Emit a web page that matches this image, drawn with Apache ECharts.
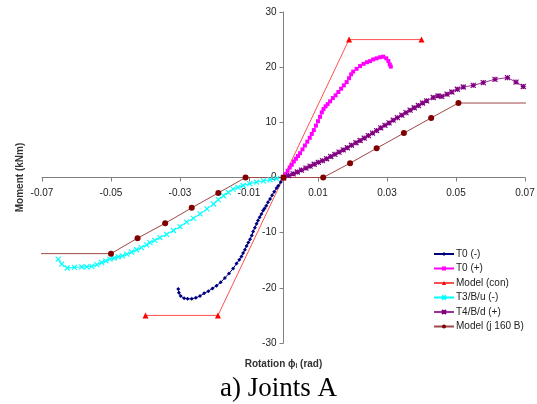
<!DOCTYPE html>
<html>
<head>
<meta charset="utf-8">
<script src="https://cdn.jsdelivr.net/npm/echarts@6/dist/echarts.min.js"></script>
<style>html,body{margin:0;padding:0;background:#fff;}#c{width:537px;height:404px;}</style>
</head>
<body>
<div id="c"></div>
<script>
var xTicks = [-0.07, -0.05, -0.03, -0.01, 0.01, 0.03, 0.05, 0.07];
var yTicks = [-30, -20, -10, 0, 10, 20, 30];
var seriesNames = ['T0 (-)', 'T0 (+)', 'Model (con)', 'T3/B/u (-)', 'T4/B/d (+)', 'Model (j 160 B)'];

var t0Neg = [[0,0],[-0.0008,-0.8],[-0.0015,-1.5],[-0.002,-1.9],[-0.0027,-2.6],[-0.0033,-3.2],[-0.0039,-3.9],[-0.0045,-4.5],[-0.005,-5.1],[-0.0055,-5.6],[-0.0059,-6.0],[-0.0064,-6.6],[-0.0069,-7.2],[-0.0074,-7.8],[-0.0078,-8.4],[-0.0083,-9.1],[-0.0088,-9.8],[-0.0092,-10.5],[-0.0097,-11.2],[-0.0102,-11.8],[-0.0107,-12.4],[-0.0112,-13.1],[-0.0117,-13.7],[-0.0122,-14.3],[-0.0128,-14.9],[-0.0136,-15.6],[-0.0146,-16.5],[-0.0158,-17.4],[-0.017,-18.2],[-0.0182,-19.0],[-0.0194,-19.6],[-0.0206,-20.1],[-0.0218,-20.6],[-0.023,-21.0],[-0.0242,-21.5],[-0.0254,-21.8],[-0.0266,-22.0],[-0.0278,-22.0],[-0.0288,-21.9],[-0.0298,-21.5],[-0.0303,-20.9],[-0.0305,-20.2]];
var t0Pos = [[0,0],[0.0006,0.6],[0.0012,1.2],[0.0018,1.8],[0.0024,2.3],[0.003,2.9],[0.0036,3.4],[0.0042,3.9],[0.0048,4.4],[0.0055,5.1],[0.0062,5.8],[0.0069,6.5],[0.0076,7.2],[0.0082,7.9],[0.0088,8.6],[0.0094,9.4],[0.0100,10.2],[0.0106,11.0],[0.0111,11.8],[0.0116,12.4],[0.0122,12.9],[0.0128,13.3],[0.0135,13.8],[0.0143,14.4],[0.0151,14.9],[0.0159,15.5],[0.0167,16.1],[0.0175,16.7],[0.0183,17.3],[0.019,18.0],[0.0196,18.7],[0.0202,19.2],[0.0212,19.7],[0.0222,20.2],[0.0232,20.6],[0.0242,20.9],[0.0251,21.1],[0.026,21.4],[0.027,21.6],[0.028,21.8],[0.0289,21.9],[0.0298,21.6],[0.0304,21.1],[0.0308,20.5],[0.0311,20.1]];
var modelCon = [[-0.04,-25],[-0.019,-25],[0,0],[0.019,25],[0.04,25]];
var t3Neg = [[0,0],[-0.002,-0.2],[-0.0039,-0.4],[-0.0058,-0.6],[-0.0078,-0.85],[-0.0098,-1.1],[-0.0117,-1.45],[-0.0132,-1.8],[-0.0146,-2.1],[-0.016,-2.7],[-0.0174,-3.3],[-0.0189,-4.0],[-0.0203,-4.8],[-0.0222,-5.7],[-0.0242,-6.6],[-0.0261,-7.4],[-0.0281,-8.1],[-0.03,-8.9],[-0.0319,-9.6],[-0.0339,-10.3],[-0.0358,-10.9],[-0.0373,-11.4],[-0.0387,-11.8],[-0.0397,-12.2],[-0.0412,-12.7],[-0.0426,-13.1],[-0.044,-13.5],[-0.0454,-13.9],[-0.0467,-14.2],[-0.0479,-14.4],[-0.0491,-14.6],[-0.0503,-14.8],[-0.0515,-15.1],[-0.0527,-15.4],[-0.0541,-15.8],[-0.0556,-16.1],[-0.057,-16.2],[-0.0585,-16.2],[-0.0606,-16.3],[-0.0627,-16.4],[-0.0643,-15.7],[-0.0653,-14.8]];
var t4Pos = [[0,0],[0.0015,0.35],[0.0028,0.67],[0.004,1.0],[0.0052,1.35],[0.0065,1.7],[0.0077,2.05],[0.0089,2.4],[0.0101,2.75],[0.0113,3.05],[0.0125,3.4],[0.0137,3.8],[0.0149,4.2],[0.0161,4.6],[0.0173,5.0],[0.0185,5.4],[0.0197,5.85],[0.021,6.3],[0.0222,6.7],[0.0234,7.15],[0.0246,7.6],[0.0258,8.05],[0.027,8.5],[0.0282,9.0],[0.0294,9.45],[0.0306,9.9],[0.0318,10.4],[0.033,10.85],[0.0343,11.3],[0.0355,11.75],[0.0367,12.2],[0.0379,12.65],[0.0391,13.05],[0.0403,13.5],[0.0415,13.9],[0.0434,14.5],[0.0448,14.8],[0.0459,14.7],[0.0474,15.1],[0.0488,15.5],[0.0504,16.0],[0.0521,16.4],[0.055,16.7],[0.0579,17.2],[0.0613,17.8],[0.0649,18.1],[0.0674,17.3],[0.0695,16.5]];
var modelJ160 = [[-0.071,-13.8],[-0.05,-13.8],[-0.0423,-11.0],[-0.0343,-8.3],[-0.0266,-5.5],[-0.0189,-2.8],[-0.011,0],[0,0],[0.0115,0],[0.0193,2.6],[0.027,5.3],[0.0349,8.05],[0.0428,10.8],[0.0507,13.5],[0.071,13.5]];

var crossPath = 'path://M0,0L10,10M10,0L0,10';
var starPath = 'path://M0,0L10,10M10,0L0,10M5,0L5,10M0,5L10,5';

function ends(data) {
  return data.map(function (p, i) {
    if (i === 0 || i === data.length - 1) { return { value: p, symbol: 'none' }; }
    return p;
  });
}

var chart = echarts.init(document.getElementById('c'), null, { renderer: 'canvas' });
var axisFont = 'Liberation Sans, Arial, sans-serif';
var gridOpt = { left: 42, right: 12, top: 12, bottom: 61, containLabel: false, outerBoundsMode: 'none' };
var option = {
  animation: false,
  backgroundColor: '#ffffff',
  title: {
    text: 'a) Joints A', left: 215, top: 370,
    textStyle: { fontFamily: 'Liberation Serif, Times New Roman, serif', fontSize: 27, fontWeight: 'normal', color: '#000' }
  },
  grid: gridOpt,
  legend: {
    orient: 'vertical', left: 428, top: 244,
    itemWidth: 20, itemHeight: 5, itemGap: 4.5,
    textStyle: { fontFamily: axisFont, fontSize: 10, color: '#222', padding: [0,0,0,-3] },
    data: seriesNames
  },
  xAxis: {
    type: 'value', min: -0.07, max: 0.07, interval: 0.02, position: 'bottom', offset: 0,
    axisLine: { onZero: false, lineStyle: { color: '#808080', width: 1 } },
    axisTick: { show: true, length: 4, lineStyle: { color: '#808080' } },
    splitLine: { show: false },
    axisLabel: {
      margin: 11, fontFamily: axisFont, fontSize: 10, color: '#222',
      formatter: function (v) { return xTicks.some(function (t) { return Math.abs(t - v) < 1e-9; }) ? v.toFixed(2) : ''; }
    },
    name: 'Rotation ϕ{sub|l} (rad)', nameLocation: 'middle', nameGap: 181,
    nameTextStyle: { fontFamily: axisFont, fontSize: 10, fontWeight: 'bold', color: '#333',
      rich: { sub: { fontSize: 6.5, fontWeight: 'bold', verticalAlign: 'bottom', padding: [4,0,0,0], fontFamily: axisFont, color: '#333' } } }
  },
  yAxis: {
    type: 'value', min: -30, max: 30, interval: 10, position: 'left', offset: 0,
    axisLine: { show: true, onZero: false, lineStyle: { color: '#808080', width: 1 } },
    axisTick: { show: true, length: 4, lineStyle: { color: '#808080' } },
    splitLine: { show: false },
    axisLabel: { margin: 7, fontFamily: axisFont, fontSize: 10, color: '#222',
      formatter: function (v) { return yTicks.indexOf(v) >= 0 ? String(v) : ''; } },
    name: 'Moment (kNm)', nameLocation: 'middle', nameGap: 258, nameRotate: 90,
    nameTextStyle: { fontFamily: axisFont, fontSize: 10, fontWeight: 'bold', color: '#333' }
  },
  series: [
    { name: seriesNames[0], type: 'line', data: t0Neg, symbol: 'diamond', symbolSize: 4,
      lineStyle: { color: '#000080', width: 1 }, itemStyle: { color: '#000080' } },
    { name: seriesNames[1], type: 'line', data: t0Pos, symbol: 'rect', symbolSize: 4,
      lineStyle: { color: '#ff00ff', width: 1 }, itemStyle: { color: '#ff00ff' } },
    { name: seriesNames[2], type: 'line', data: modelCon, symbol: 'triangle', symbolSize: 6,
      lineStyle: { color: '#ff5050', width: 1 }, itemStyle: { color: '#ff0000' } },
    { name: seriesNames[3], type: 'line', data: t3Neg, symbol: crossPath, symbolSize: 5,
      lineStyle: { color: '#00ffff', width: 1 }, itemStyle: { color: '#00ffff', borderColor: '#00ffff', borderWidth: 1.2 } },
    { name: seriesNames[4], type: 'line', data: t4Pos, symbol: starPath, symbolSize: 5,
      lineStyle: { color: '#993399', width: 1 }, itemStyle: { color: '#800080', borderColor: '#800080', borderWidth: 1.2 } },
    { name: seriesNames[5], type: 'line', data: ends(modelJ160), symbol: 'circle', symbolSize: 6, clip: false,
      lineStyle: { color: '#a04848', width: 1 }, itemStyle: { color: '#800000' } }
  ]
};
chart.setOption(option);
// Move the axes so they cross at the data origin, like the reference.
var origin = chart.convertToPixel({ gridIndex: 0 }, [0, 0]);
var H = chart.getHeight();
var yOffset = -(origin[0] - gridOpt.left);
var xOffset = -((H - gridOpt.bottom) - origin[1]);
chart.setOption({
  xAxis: { offset: xOffset },
  yAxis: { offset: yOffset }
});
</script>
</body>
</html>
